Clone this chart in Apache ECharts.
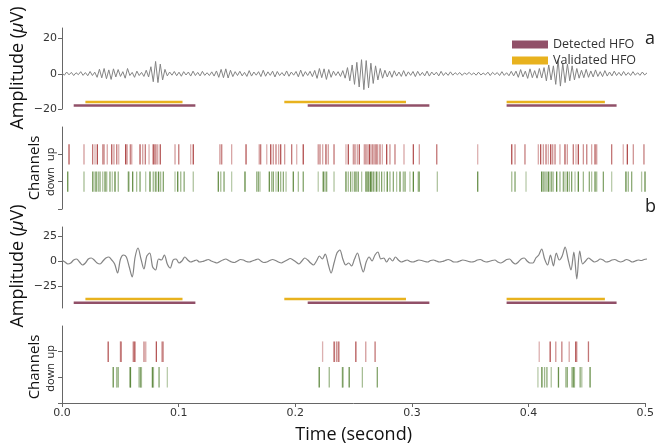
<!DOCTYPE html>
<html>
<head>
<meta charset="utf-8">
<script src="https://cdn.jsdelivr.net/npm/echarts@6/dist/echarts.min.js"></script>
<style>
  html, body { margin: 0; padding: 0; background: #fff; }
  #chart { width: 657px; height: 445px; }
</style>
</head>
<body>
<div id="chart"></div>
<script>
// signal a, one sample every 2 ms
const signalA = [
  0.5,-0.8,1,-0.6,0.8,-1,0.6,-0.5,1.2,-0.9,0.7,-1.1,1.3,-1,0.9,
  -2,2.6,-2.3,3,-2.8,2.2,-3.2,2.8,-1.8,2.4,
  -1.5,1.2,-2.5,3,-1,0.8,-2,1.5,
  -1,0.8,-1.5,2,-1.8,
  4,-4.5,7,-5,5.5,-3.5,2.5,
  -1.2,1,-0.8,1.3,-1.1,0.9,-1.4,1.2,-0.7,1,-1.3,1.5,-1,0.8,-1.2,1.4,-0.9,0.6,-1,1.1,-1.3,1.6,
  -2,2.5,-2.2,2.8,-2.4,2,-1.6,1.2,
  -1,1.4,-1.2,0.8,-1.5,1.8,-1.3,1,-0.8,1.2,-1.6,2,-1.4,1.1,-0.9,1.5,-1.8,1.3,-1,0.7,
  -1.2,1.6,-1.4,1,-0.8,1.3,-1.7,2.1,-1.5,1.2,-1,1.4,-1.6,1.9,
  -2.6,3,-2.2,2.8,-3.2,2.4,-2,1.5,-1,
  1.2,-1.5,1.8,
  -2.5,3.5,-4,5,-6,6.5,-7.5,8,-9,7.5,-8,6,-5.5,4.5,-3.5,3,-2.5,
  2,-1.8,1.5,-2,1.7,-1.3,1,-1.5,1.8,-1.4,1.1,-0.9,1.3,-1.6,1.4,-1,0.8,-1.2,1.5,-1.3,
  1,-0.7,0.9,-1.2,1.4,-1,0.7,-0.9,1.1,
  -0.8,0.6,-0.5,0.7,-0.9,0.5,-0.4,0.8,-0.6,0.5,-0.8,0.9,-0.7,0.4,-0.6,0.9,-1,0.8,-0.5,0.7,
  -1,1.2,-0.9,0.6,-1.1,1.4,-1.2,1.5,
  -2,2.4,-1.8,1.5,-2.6,2.8,-2.2,1.8,-2.5,3,-2.4,
  3.5,-4,5,-3.5,4.5,-6,8,-7,6,-5,5.5,-4,4.5,-3.5,3,-2.5,2,
  -2.2,2.5,-2,1.6,-1.8,2.2,-1.5,1.2,-1.6,1.8,-1.3,1,-1.2,1.5,-1,0.8,-1.1,1.3,-0.9,0.7,
  -1,1.2,-0.8,0.6,-0.9,1,-0.7,0.5
];
const stepA = 0.002;

// signal b, one sample every 2.5 ms
const signalB = [
  1,-1,-3,-2,1,2,-1,-4,-2,2,3,1,-2,-3,0,3,4,1,-3,
  -12,2,6,4,-6,-16,4,13,2,-8,5,8,-6,-9,2,1,6,-3,-7,1,2,-2,0,4,1,
  -1,0,1,-1,-0.5,0.5,1.5,0,-1,-2,-0.5,1,2,0.5,-1,-1.5,0,1.5,1,-0.5,
  -1,0,1,2,0,-1.5,-1,0.5,1.5,0.5,-1,-2,-0.5,1,2.5,1,-1,
  -3,0,3,1,-2,-4,0,5,
  2,7,-3,-12,-2,8,11,2,-4,-2,-5,2,8,-2,-11,-1,4,0,6,9,2,3,-1,3,0,4,1,-1,
  0,1,-0.5,-1,0,1,0.5,-0.5,-1,0.5,1,0,-1,-0.5,0.5,1.5,0.5,-1,-1,0,
  1,0.5,-0.5,-1,-0.5,1,1.5,0,-1,-0.5,0.5,1,-1,-2,-0.5,1.5,2,-1,-3,-1,2,3,0,-2,
  -2,3,6,12,2,-4,6,-5,8,1,5,14,2,-9,9,-18,10,-3,0,3,
  1,-1,0,2,1,-1,-0.5,1,1.5,0,-1,0,1.5,0.5,-1,0,1,0.5,1.5,2
];
const stepB = 0.0025;

// HFO intervals [start, end] in seconds
const detectedHFO = [[0.01, 0.114], [0.21, 0.314], [0.38, 0.474]];
const validatedHFO = [[0.02, 0.103], [0.19, 0.294], [0.38, 0.464]];

// spike times (s), panel a
const spikesUpA = [0.006,0.0188,0.0262,0.0282,0.0302,0.0348,0.0359,0.0387,0.0425,0.0444,0.0468,0.0485,
  0.0544,0.0556,0.0584,0.0596,0.0667,0.069,0.0712,0.0744,0.078,0.0792,0.0803,0.0818,0.084,0.0966,0.0998,
  0.11,0.1122,0.135,0.1365,0.145,0.1573,0.1686,0.1698,0.175,0.1784,0.1806,0.1829,0.1852,0.1869,0.1903,
  0.1963,0.2006,0.2062,0.219,0.2205,0.2228,0.2256,0.2276,0.2325,0.2427,0.2447,0.249,0.2504,0.2524,0.2541,
  0.2584,0.2598,0.2613,0.2627,0.2641,0.2656,0.2669,0.2684,0.2698,0.2718,0.2738,0.2775,0.2803,0.2846,
  0.2923,0.3003,0.3054,0.3203,0.3553,0.3844,0.3872,0.3957,0.4071,0.4091,0.4114,0.4137,0.4157,0.4177,
  0.4194,0.4214,0.4256,0.4299,0.4319,0.437,0.4393,0.4413,0.4456,0.4485,0.4527,0.4556,0.457,0.4698,
  0.4797,0.4832,0.4883,0.4974];
const spikesDownA = [0.0049,0.0188,0.0262,0.0274,0.0291,0.031,0.0325,0.0348,0.0368,0.0382,0.041,0.043,
  0.0453,0.0481,0.0567,0.0573,0.0604,0.0638,0.0667,0.0715,0.0752,0.078,0.0798,0.0809,0.0826,0.0843,
  0.0866,0.0966,0.0989,0.1015,0.1044,0.1122,0.1336,0.1357,0.1385,0.145,0.1564,0.1664,0.1678,0.1692,
  0.1772,0.1792,0.1806,0.1829,0.1849,0.1869,0.1892,0.1915,0.1977,0.202,0.2062,0.219,0.2233,0.2248,
  0.2262,0.2325,0.2427,0.2447,0.2467,0.2485,0.2504,0.2519,0.2533,0.2561,0.2598,0.2609,0.2618,0.2627,
  0.2638,0.2647,0.2661,0.2675,0.269,0.2712,0.2732,0.2755,0.278,0.2803,0.2832,0.286,0.2889,0.2917,
  0.2932,0.2974,0.3003,0.3045,0.3054,0.3208,0.3553,0.3844,0.3872,0.3966,0.41,0.4114,0.4128,0.4143,
  0.4157,0.4171,0.4186,0.42,0.4228,0.4256,0.4285,0.4299,0.4319,0.4336,0.4356,0.4385,0.4413,0.4456,
  0.4507,0.4527,0.4556,0.457,0.4627,0.4698,0.482,0.484,0.4869,0.4954,0.4983];

// spike times (s), panel b
const spikesUpB = [0.0396,0.0501,0.0507,0.0609,0.0618,0.0627,0.0703,0.0718,0.0809,0.0857,0.0866,
  0.2234,0.2333,0.2353,0.2368,0.2376,0.2519,0.2604,0.2684,
  0.4091,0.4185,0.4233,0.4285,0.4348,0.4404,0.4413,0.4513];
const spikesDownB = [0.0439,0.0468,0.0481,0.0581,0.0587,0.0661,0.0673,0.0681,0.0775,0.0784,0.0832,0.0903,
  0.2205,0.2291,0.2404,0.241,0.2462,0.2575,0.2703,
  0.408,0.4114,0.4137,0.4157,0.4194,0.4256,0.4319,0.4331,0.437,0.4382,0.4393,0.4442,0.4456,0.4527];

const timeTicks = [0, 0.1, 0.2, 0.3, 0.4, 0.5];

const purple = "#915068";
const yellow = "#e8b21e";
const red = "#a83a3a";
const green = "#4f7d2c";
const axisColor = "#666";
const tickFont = "DejaVu Sans";
const titleFont = "Open Sans";

const chart = echarts.init(document.getElementById("chart"), null, { renderer: "canvas" });

// shading of the raster ticks, just for the mottled look
const shades = [0.85, 0.5, 0.7, 0.4, 0.9, 0.55, 0.65, 0.45];

function rasterSeries(times, row, color, grid, half) {
  return {
    type: "custom",
    xAxisIndex: grid,
    yAxisIndex: grid,
    silent: true,
    data: times.map((t) => [t, row]),
    renderItem: (params, api) => {
      const p0 = api.coord([api.value(0), api.value(1) - half]);
      const p1 = api.coord([api.value(0), api.value(1) + half]);
      return {
        type: "line",
        shape: { x1: p0[0], y1: p0[1], x2: p1[0], y2: p1[1] },
        style: { stroke: color, lineWidth: 1.3, opacity: shades[params.dataIndex % shades.length] },
      };
    },
  };
}

function hfoSeries(name, spans, level, color, grid) {
  return {
    name: name,
    type: "custom",
    xAxisIndex: grid,
    yAxisIndex: grid,
    silent: true,
    itemStyle: { color: color },
    data: spans.map((s) => [s[0], s[1]]),
    renderItem: (params, api) => {
      const p0 = api.coord([api.value(0), level]);
      const p1 = api.coord([api.value(1), level]);
      return {
        type: "line",
        shape: { x1: p0[0], y1: p0[1], x2: p1[0], y2: p1[1] },
        style: { stroke: color, lineWidth: 2.5 },
      };
    },
  };
}

const grids = [
  { left: 62, right: 10, top: 28, height: 81 },
  { left: 62, right: 10, top: 127, height: 82 },
  { left: 62, right: 10, top: 227, height: 81 },
  { left: 62, right: 10, top: 326, height: 82 },
];

const xAxes = grids.map((g, i) => ({
  type: "value",
  gridIndex: i,
  min: 0,
  max: 0.5,
  show: i === 3,
  axisLine: { lineStyle: { color: axisColor } },
  axisTick: { length: 4, lineStyle: { color: axisColor }, customValues: timeTicks },
  axisLabel: {
    customValues: timeTicks,
    formatter: (v) => v.toFixed(1),
    color: "#333",
    fontFamily: tickFont,
    fontSize: 11,
    margin: 5,
  },
  splitLine: { show: false },
  name: i === 3 ? "Time (second)" : "",
  nameLocation: "middle",
  nameGap: 23,
  nameTextStyle: { fontFamily: titleFont, fontSize: 18, color: "#111" },
}));

function ampAxis(grid, min, max, ticks) {
  return {
    type: "value",
    gridIndex: grid,
    min: min,
    max: max,
    axisLine: { show: true, lineStyle: { color: axisColor } },
    axisTick: { show: true, length: 4, lineStyle: { color: axisColor }, customValues: ticks },
    axisLabel: {
      customValues: ticks,
      formatter: (v) => (v < 0 ? "\u2212" + Math.abs(v) : String(v)),
      color: "#333",
      fontFamily: tickFont,
      fontSize: 11,
      margin: 5,
    },
    splitLine: { show: false },
  };
}

function channelAxis(grid) {
  return {
    type: "value",
    gridIndex: grid,
    min: 0,
    max: 3,
    axisLine: { show: true, lineStyle: { color: axisColor } },
    axisTick: { show: true, length: 4, lineStyle: { color: axisColor }, customValues: [0, 1, 2] },
    axisLabel: {
      customValues: [1, 2],
      formatter: (v) => (v === 2 ? "up" : "down"),
      rotate: 90,
      color: "#222",
      fontFamily: titleFont,
      fontSize: 11,
      margin: 6,
    },
    splitLine: { show: false },
  };
}

const yAxes = [
  ampAxis(0, -20, 26, [-20, 0, 20]),
  channelAxis(1),
  ampAxis(2, -47, 34, [-25, 0, 25]),
  channelAxis(3),
];

const ampTitle = (y) => ({
  type: "text",
  x: 18,
  y: y,
  rotation: Math.PI / 2,
  style: {
    text: "Amplitude ({mu|\u03bc}V)",
    font: "18px " + titleFont,
    fill: "#111",
    align: "center",
    verticalAlign: "middle",
    rich: { mu: { fontStyle: "italic", fontFamily: titleFont, fontSize: 18, fill: "#111" } },
  },
});

const option = {
  animation: false,
  backgroundColor: "#fff",
  grid: grids,
  xAxis: xAxes,
  yAxis: yAxes,
  legend: {
    data: ["Detected HFO", "Validated HFO"],
    orient: "vertical",
    left: 507,
    top: 33,
    icon: "rect",
    itemWidth: 36,
    itemHeight: 8,
    itemGap: 3,
    selectedMode: false,
    textStyle: { fontFamily: titleFont, fontSize: 12.5, color: "#333" },
  },
  graphic: [
    { type: "text", left: 645, top: 30, style: { text: "a", font: "18px " + titleFont, fill: "#222" } },
    { type: "text", left: 645, top: 198, style: { text: "b", font: "18px " + titleFont, fill: "#222" } },
    ampTitle(68),
    ampTitle(266),
    { type: "text", x: 35, y: 168, rotation: Math.PI / 2,
      style: { text: "Channels", font: "15px " + titleFont, fill: "#111", align: "center", verticalAlign: "middle" } },
    { type: "text", x: 35, y: 367, rotation: Math.PI / 2,
      style: { text: "Channels", font: "15px " + titleFont, fill: "#111", align: "center", verticalAlign: "middle" } },
  ],
  series: [
    {
      type: "line",
      xAxisIndex: 0,
      yAxisIndex: 0,
      showSymbol: false,
      silent: true,
      data: signalA.map((v, i) => [i * stepA, v]),
      lineStyle: { color: "#848484", width: 1 },
    },
    hfoSeries("Validated HFO", validatedHFO, -16, yellow, 0),
    hfoSeries("Detected HFO", detectedHFO, -18, purple, 0),
    rasterSeries(spikesUpA, 2, red, 1, 0.37),
    rasterSeries(spikesDownA, 1, green, 1, 0.37),
    {
      type: "line",
      xAxisIndex: 2,
      yAxisIndex: 2,
      showSymbol: false,
      silent: true,
      smooth: 0.3,
      data: signalB.map((v, i) => [i * stepB, v]),
      lineStyle: { color: "#848484", width: 1.2 },
    },
    hfoSeries("Validated HFO", validatedHFO, -38, yellow, 2),
    hfoSeries("Detected HFO", detectedHFO, -41.7, purple, 2),
    rasterSeries(spikesUpB, 2, red, 3, 0.4),
    rasterSeries(spikesDownB, 1, green, 3, 0.4),
  ],
};

chart.setOption(option);
</script>
</body>
</html>
